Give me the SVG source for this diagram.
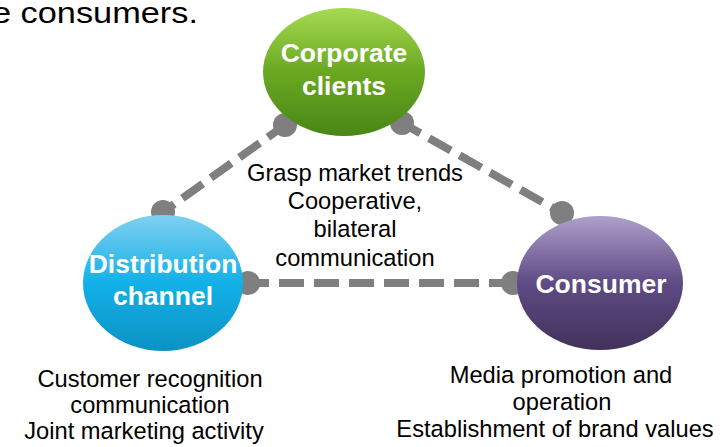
<svg xmlns="http://www.w3.org/2000/svg" width="723" height="447" viewBox="0 0 723 447">
  <style>
    .t { font-family: "Liberation Sans", Arial, sans-serif; font-size: 23.7px; fill: #000; text-anchor: middle; }
    .n { font-family: "Liberation Sans", Arial, sans-serif; font-size: 26.5px; font-weight: bold; fill: #fff; text-anchor: middle; }
    .c { stroke: #7f7f7f; stroke-width: 8; fill: none; stroke-dasharray: 25 10; }
    .dot { fill: #7f7f7f; }
  </style>
  <defs>
    <linearGradient id="gGreen" x1="0" y1="0" x2="0" y2="1">
      <stop offset="0" stop-color="#a6da50"/>
      <stop offset="0.5" stop-color="#6aa822"/>
      <stop offset="1" stop-color="#4a8616"/>
    </linearGradient>
    <linearGradient id="gBlue" x1="0" y1="0" x2="0" y2="1">
      <stop offset="0" stop-color="#80d0f0"/>
      <stop offset="0.5" stop-color="#12b0e8"/>
      <stop offset="1" stop-color="#0c92c4"/>
    </linearGradient>
    <linearGradient id="gPurple" x1="0" y1="0" x2="0" y2="1">
      <stop offset="0" stop-color="#ae9fca"/>
      <stop offset="0.5" stop-color="#5f4b85"/>
      <stop offset="1" stop-color="#42315a"/>
    </linearGradient>
  </defs>

  <text x="-8" y="23" font-family="'Liberation Sans', Arial, sans-serif" font-size="30" textLength="206" lengthAdjust="spacingAndGlyphs">e consumers.</text>

  <g id="connectors">
    <line class="c" x1="285" y1="125" x2="163" y2="212" stroke-dashoffset="4"/>
    <circle class="dot" cx="285" cy="125" r="12"/>
    <circle class="dot" cx="163" cy="212" r="12"/>
    <line class="c" x1="402" y1="123" x2="562" y2="213" stroke-dashoffset="4"/>
    <circle class="dot" cx="402" cy="123" r="12"/>
    <circle class="dot" cx="562" cy="213" r="12"/>
    <line class="c" x1="248" y1="283" x2="513" y2="283" stroke-dashoffset="4"/>
    <circle class="dot" cx="248" cy="283" r="12"/>
    <circle class="dot" cx="513" cy="283" r="12"/>
  </g>

  <g id="corporate-clients">
    <ellipse cx="344" cy="72" rx="81" ry="64" fill="url(#gGreen)"/>
    <text class="n" x="344" y="62">Corporate</text>
    <text class="n" x="344" y="95">clients</text>
  </g>

  <g id="distribution-channel">
    <ellipse cx="163" cy="283" rx="80" ry="68" fill="url(#gBlue)"/>
    <text class="n" x="163" y="273">Distribution</text>
    <text class="n" x="163" y="305">channel</text>
  </g>

  <g id="consumer">
    <ellipse cx="600" cy="283" rx="83" ry="67" fill="url(#gPurple)"/>
    <text class="n" x="601" y="293">Consumer</text>
  </g>

  <g id="center-label">
    <text class="t" x="355" y="181">Grasp market trends</text>
    <text class="t" x="355" y="209">Cooperative,</text>
    <text class="t" x="355" y="237">bilateral</text>
    <text class="t" x="355" y="266">communication</text>
  </g>

  <g id="distribution-label">
    <text class="t" x="150" y="387">Customer recognition</text>
    <text class="t" x="150" y="413">communication</text>
    <text class="t" x="144" y="439">Joint marketing activity</text>
  </g>

  <g id="consumer-label">
    <text class="t" x="561" y="383">Media promotion and</text>
    <text class="t" x="562" y="410">operation</text>
    <text class="t" x="555" y="437">Establishment of brand values</text>
  </g>
</svg>
